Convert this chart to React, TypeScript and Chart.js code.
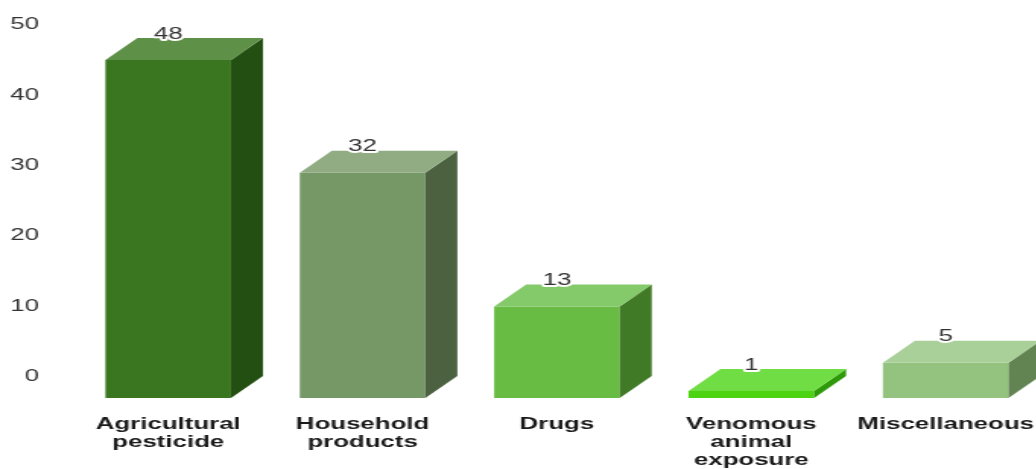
import React, { useEffect, useRef } from "react";
import { Chart, registerables } from "chart.js";

Chart.register(...registerables);

const categories = [
  ["Agricultural", "pesticide"],
  ["Household", "products"],
  ["Drugs"],
  ["Venomous", "animal", "exposure"],
  ["Miscellaneous"],
];
const values = [48, 32, 13, 1, 5];
const yTicks = [0, 10, 20, 30, 40, 50];
const frontColors = ["#3a761f", "#769866", "#68bc44", "#4cd311", "#94c380"];
const sideColors = ["#234f12", "#4c6140", "#417a26", "#2e9a0a", "#628453"];
const topColors = ["#5f9048", "#91ab83", "#84c96a", "#70dd44", "#aad09a"];

const SX = 1.52;
const DX = 32 / SX;
const DY = 22;

const bars3d = {
  id: "bars3d",
  afterDatasetsDraw(chart: any) {
    const ctx = chart.ctx;
    const meta = chart.getDatasetMeta(0);
    meta.data.forEach((bar: any, i: number) => {
      const p = bar.getProps(["x", "y", "base", "width"], true);
      const l = p.x - p.width / 2;
      const r = p.x + p.width / 2;
      ctx.save();
      ctx.fillStyle = sideColors[i];
      ctx.beginPath();
      ctx.moveTo(r, p.y);
      ctx.lineTo(r + DX, p.y - DY);
      ctx.lineTo(r + DX, p.base - DY);
      ctx.lineTo(r, p.base);
      ctx.closePath();
      ctx.fill();
      ctx.fillStyle = topColors[i];
      ctx.beginPath();
      ctx.moveTo(l, p.y);
      ctx.lineTo(l + DX, p.y - DY);
      ctx.lineTo(r + DX, p.y - DY);
      ctx.lineTo(r, p.y);
      ctx.closePath();
      ctx.fill();
      ctx.font = "17px 'Liberation Sans'";
      ctx.textAlign = "center";
      ctx.textBaseline = "middle";
      ctx.lineJoin = "round";
      ctx.lineWidth = 4;
      ctx.strokeStyle = "#ffffff";
      const label = String(values[i]);
      ctx.strokeText(label, p.x, p.y - DY - 4);
      ctx.fillStyle = "#333333";
      ctx.fillText(label, p.x, p.y - DY - 4);
      ctx.restore();
    });
  },
};

export default function App() {
  const ref = useRef<HTMLCanvasElement>(null);
  useEffect(() => {
    const chart = new Chart(ref.current!, {
      type: "bar",
      data: {
        labels: categories,
        datasets: [
          {
            data: values,
            backgroundColor: frontColors,
            barPercentage: 0.646,
            categoryPercentage: 1,
          },
        ],
      },
      plugins: [bars3d],
      options: {
        animation: false,
        responsive: false,
        devicePixelRatio: 1,
        layout: { padding: { top: 46, right: 7.5, left: 0, bottom: 0 } },
        plugins: { legend: { display: false }, tooltip: { enabled: false } },
        scales: {
          x: {
            grid: { display: false, drawTicks: false },
            border: { display: false },
            afterFit(s: any) {
              s.height = 71;
            },
            ticks: {
              maxRotation: 0,
              minRotation: 0,
              autoSkip: false,
              padding: 17,
              color: "#1a1a1a",
              font: { family: "'Liberation Sans'", size: 17, weight: "bold", lineHeight: 18 / 17 },
            },
          },
          y: {
            min: 0,
            max: 50,
            grid: { display: false, drawTicks: false },
            border: { display: false },
            afterFit(s: any) {
              s.width = 71 / SX;
            },
            afterBuildTicks(s: any) {
              s.ticks = yTicks.map((value) => ({ value }));
            },
            ticks: {
              padding: 32 / SX,
              labelOffset: -21.5,
              color: "#333333",
              font: { family: "'Liberation Sans'", size: 17 },
            },
          },
        },
      },
    } as any);
    return () => chart.destroy();
  }, []);
  return (
    <div style={{ position: "fixed", left: 0, top: 0, width: 1036, height: 469, overflow: "hidden", background: "#fff" }}>
      <canvas
        ref={ref}
        width={698}
        height={469}
        style={{ display: "block", transform: `scaleX(${SX})`, transformOrigin: "0 0" }}
      />
    </div>
  );
}
